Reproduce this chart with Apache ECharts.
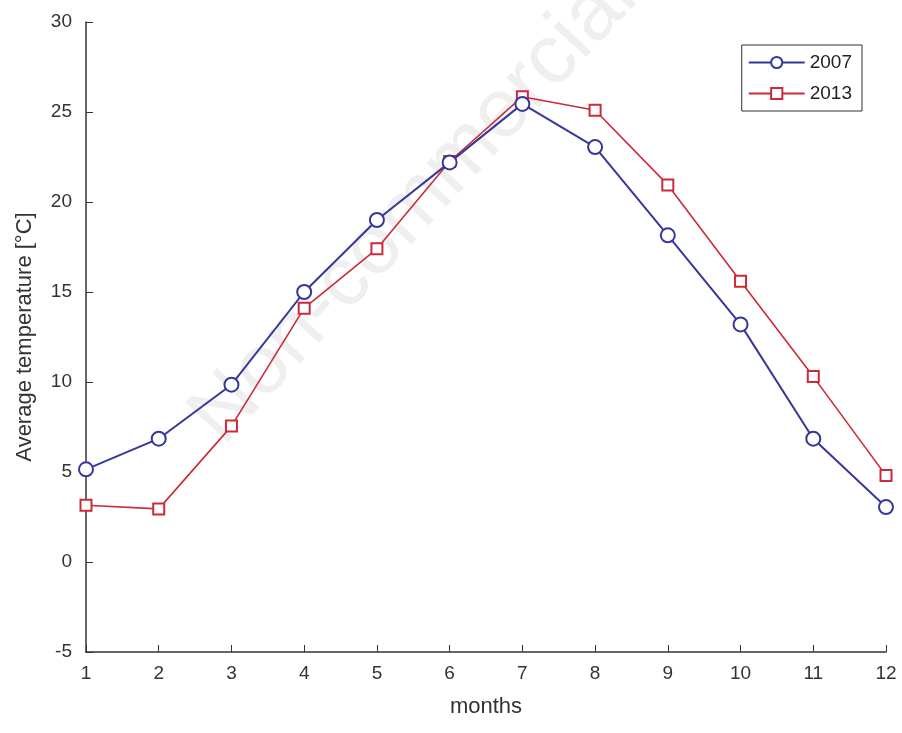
<!DOCTYPE html>
<html>
<head>
<meta charset="utf-8">
<script src="https://cdn.jsdelivr.net/npm/echarts@6/dist/echarts.min.js"></script>
<style>
  html, body { margin: 0; padding: 0; background: #fff; }
  #main { width: 902px; height: 733px; }
</style>
</head>
<body>
<div id="main"></div>
<script>
// monthly average temperature
var months = [1, 2, 3, 4, 5, 6, 7, 8, 9, 10, 11, 12];
var temp2007 = [5.15, 6.85, 9.85, 15.0, 19.0, 22.2, 25.45, 23.05, 18.15, 13.2, 6.85, 3.05];
var temp2013 = [3.15, 2.95, 7.55, 14.1, 17.4, 22.25, 25.85, 25.1, 20.95, 15.6, 10.3, 4.8];
var seriesNames = ['2007', '2013'];

var font = 'Liberation Sans, Arial, sans-serif';

function pairs(ys) {
  return months.map(function (m, i) { return [m, ys[i]]; });
}

var chart = echarts.init(document.getElementById('main'));
chart.setOption({
  backgroundColor: '#fff',
  animation: false,
  graphic: [{
    type: 'text',
    left: 175,
    top: -45,
    rotation: 47 * Math.PI / 180,
    z: -10,
    style: {
      text: 'Non-commercial',
      fill: '#efefef',
      font: '84px ' + font
    }
  }],
  grid: { left: 86, right: 16, top: 22, bottom: 81 },
  legend: {
    orient: 'vertical',
    right: 40,
    top: 45,
    itemWidth: 56,
    itemHeight: 14,
    itemGap: 12,
    padding: [8, 10, 8, 6],
    borderColor: '#333',
    borderWidth: 1,
    textStyle: { fontFamily: font, fontSize: 19, color: '#222' },
    data: seriesNames
  },
  xAxis: {
    type: 'value',
    min: 1, max: 12, interval: 1,
    name: 'months',
    nameLocation: 'middle',
    nameGap: 44,
    nameTextStyle: { fontFamily: font, fontSize: 22, color: '#333' },
    axisLine: { onZero: false, lineStyle: { color: '#333', width: 1.5 } },
    axisTick: { inside: true, length: 7, lineStyle: { color: '#333' } },
    axisLabel: { fontFamily: font, fontSize: 19, color: '#333', margin: 12 },
    splitLine: { show: false }
  },
  yAxis: {
    type: 'value',
    min: -5, max: 30, interval: 5,
    name: 'Average temperature [°C]',
    nameLocation: 'middle',
    nameGap: 50,
    nameTextStyle: { fontFamily: font, fontSize: 22, color: '#333' },
    axisLine: { show: true, onZero: false, lineStyle: { color: '#333', width: 1.5 } },
    axisTick: { show: true, inside: true, length: 7, lineStyle: { color: '#333' } },
    axisLabel: { fontFamily: font, fontSize: 19, color: '#333', margin: 14 },
    splitLine: { show: false }
  },
  series: [
    {
      name: seriesNames[0],
      type: 'line',
      data: pairs(temp2007),
      symbol: 'emptyCircle',
      symbolSize: 14,
      color: '#35379a',
      lineStyle: { width: 2, color: '#35379a' },
      itemStyle: { color: '#35379a', borderWidth: 1.8 },
      z: 3
    },
    {
      name: seriesNames[1],
      type: 'line',
      data: pairs(temp2013),
      symbol: 'emptyRect',
      symbolSize: 11,
      color: '#cc2a3a',
      lineStyle: { width: 1.6, color: '#cc2a3a' },
      itemStyle: { color: '#cc2a3a', borderWidth: 1.6 },
      z: 2
    }
  ]
});
</script>
</body>
</html>
